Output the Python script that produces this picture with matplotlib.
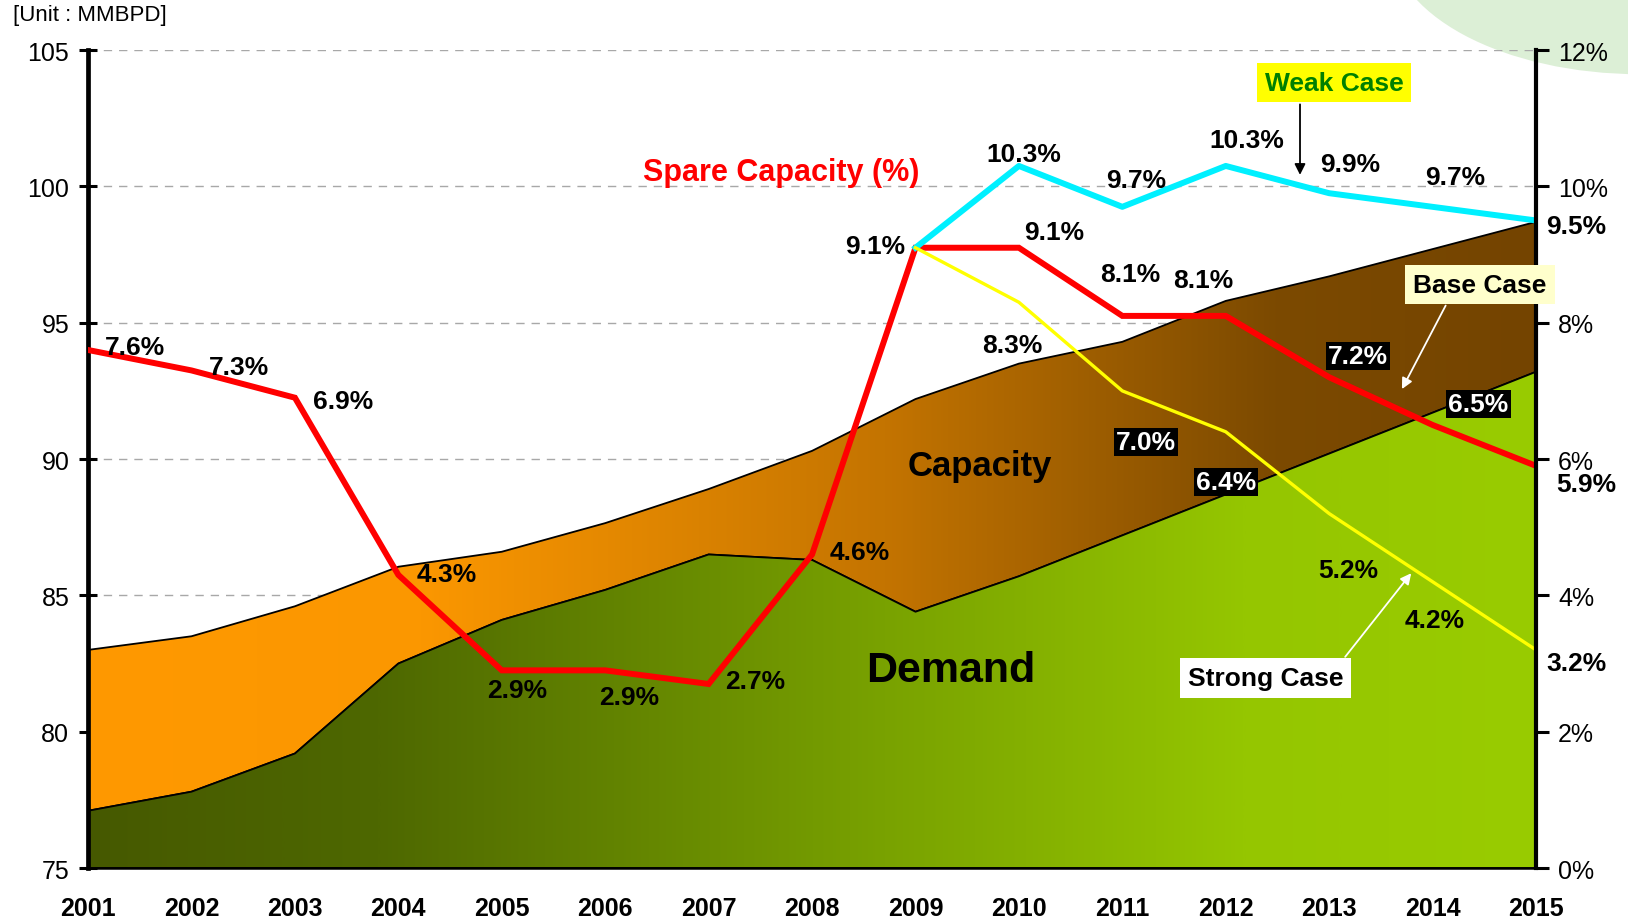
import numpy as np
import matplotlib
matplotlib.use("Agg")
import matplotlib.pyplot as plt
from matplotlib.colors import LinearSegmentedColormap
from matplotlib.patches import Ellipse

plt.rcParams['font.family'] = ['Liberation Sans', 'DejaVu Sans']

# --- data ---
years = list(range(2001, 2016))
capacity = [83.0, 83.5, 84.6, 86.05, 86.6, 87.65, 88.9, 90.3, 92.2, 93.5, 94.3, 95.8, 96.7, 97.7, 98.7]
demand = [77.1, 77.8, 79.2, 82.5, 84.1, 85.2, 86.5, 86.3, 84.4, 85.7, 87.2, 88.7, 90.2, 91.7, 93.2]
spare = [7.6, 7.3, 6.9, 4.3, 2.9, 2.9, 2.7, 4.6, 9.1, 9.1, 8.1, 8.1, 7.2, 6.5, 5.9]
case_years = years[8:]
weak = [9.1, 10.3, 9.7, 10.3, 9.9, 9.7, 9.5]
strong = [9.1, 8.3, 7.0, 6.4, 5.2, 4.2, 3.2]

left_ticks = [75, 80, 85, 90, 95, 100, 105]
right_ticks = [0, 2, 4, 6, 8, 10, 12]

# label offsets in pixels (dx, dy) from each point
spare_off = [(47, 3), (48, 3), (48, -3), (48, 1), (15, -20), (24, -27), (47, 3), (48, 2),
             (-40, 2), (35, 16), (8, 42), (-22, 36), (29, 21), (46, 21), (50, -18)]
spare_boxed = [2013, 2014]
weak_off = [None, (5, 12), (14, 27), (21, 26), (21, 29), (23, 30), (40, -6)]
strong_off = [None, (-7, -43), (24, -51), (0, -50), (19, -56), (2, -38), (40, -13)]
strong_boxed = [2011, 2012]

fig = plt.figure(figsize=(16.28, 9.2), dpi=100)
fig.patch.set_facecolor('white')
blob = Ellipse((1.0074, 1.065), 0.307, 0.2935, transform=fig.transFigure,
               facecolor='#DCEFD6', edgecolor='none', zorder=-1)
fig.add_artist(blob)

ax = fig.add_axes([0.0541, 0.0554, 0.8894, 0.8891])
ax.patch.set_visible(False)
ax.set_xlim(2001, 2015)
ax.set_ylim(75, 105)

# dashed grid
ax.set_yticks(left_ticks)
ax.yaxis.grid(True, linestyle=(0, (6, 5)), color='#A8A8A8', linewidth=1.0, zorder=0)
ax.set_axisbelow(True)


def gradient_fill(lower, upper, stops, z):
    band = ax.fill_between(years, lower, upper, facecolor='none', edgecolor='black',
                           linewidth=1.3, zorder=z + 0.5)
    cmap = LinearSegmentedColormap.from_list('g', stops)
    grad = np.linspace(0, 1, 512).reshape(1, -1)
    im = ax.imshow(grad, cmap=cmap, extent=[2001, 2015, 75, 105], aspect='auto',
                   origin='lower', zorder=z, interpolation='bilinear')
    im.set_clip_path(band.get_paths()[0], transform=ax.transData)
    return band


gradient_fill(demand, capacity,
              [(0.0, '#FF9900'), (0.23, '#FB9700'), (0.55, '#C47400'),
               (0.82, '#7C4A00'), (1.0, '#744400')], 1)
gradient_fill([75] * len(years), demand,
              [(0.0, '#465900'), (0.2, '#4E6800'), (0.55, '#79A200'),
               (0.8, '#95C600'), (1.0, '#99CC00')], 2)
ax.set_xlim(2001, 2015)
ax.set_ylim(75, 105)

ax2 = ax.twinx()
ax2.set_ylim(0, 12)
ax2.set_yticks(right_ticks)
ax2.set_yticklabels([f"{v}%" for v in right_ticks])

ax2.plot(years, spare, color='#FF0000', linewidth=4.3, solid_joinstyle='miter', zorder=3)
ax2.plot(case_years, weak, color='#00F0FF', linewidth=4.3, zorder=3)
ax2.plot(case_years, strong, color='#FFFF00', linewidth=2.4, zorder=4)

lab = dict(fontsize=19, fontweight='bold', ha='center', va='center',
           textcoords='offset pixels', zorder=6)
black_box = dict(boxstyle='square,pad=0.08', facecolor='black', edgecolor='none')

for yr, v, off in zip(years, spare, spare_off):
    if yr in spare_boxed:
        ax2.annotate(f"{v}%", (yr, v), xytext=off, color='white', bbox=black_box, **lab)
    else:
        ax2.annotate(f"{v}%", (yr, v), xytext=off, color='black', **lab)

for yr, v, off in zip(case_years, weak, weak_off):
    if off is not None:
        ax2.annotate(f"{v}%", (yr, v), xytext=off, color='black', **lab)

for yr, v, off in zip(case_years, strong, strong_off):
    if off is None:
        continue
    if yr in strong_boxed:
        ax2.annotate(f"{v}%", (yr, v), xytext=off, color='white', bbox=black_box, **lab)
    else:
        ax2.annotate(f"{v}%", (yr, v), xytext=off, color='black', **lab)

# area / series titles
ax2.text(0.4786, 0.8504, "Spare Capacity (%)", transform=ax2.transAxes, color='#FF0000',
         fontsize=22, fontweight='bold', ha='center', va='center', zorder=6)
ax2.text(0.616, 0.4927, "Capacity", transform=ax2.transAxes, color='black',
         fontsize=25, fontweight='bold', ha='center', va='center', zorder=6)
ax2.text(0.596, 0.242, "Demand", transform=ax2.transAxes, color='black',
         fontsize=31, fontweight='bold', ha='center', va='center', zorder=6)

# case call-outs
ax2.text(0.8605, 0.96, "Weak Case", transform=ax2.transAxes, color='#008000',
         fontsize=19, fontweight='bold', ha='center', va='center', zorder=10,
         bbox=dict(boxstyle='square,pad=0.28', facecolor='#FFFF00', edgecolor='none'))
ax2.annotate('', xy=(0.837, 0.844), xytext=(0.837, 0.937), xycoords='axes fraction',
             textcoords='axes fraction', zorder=10,
             arrowprops=dict(arrowstyle='-|>', color='black', lw=1.3, mutation_scale=16))

ax2.text(0.9613, 0.7133, "Base Case", transform=ax2.transAxes, color='black',
         fontsize=19, fontweight='bold', ha='center', va='center', zorder=10,
         bbox=dict(boxstyle='square,pad=0.3', facecolor='#FFFFCC', edgecolor='none'))
ax2.annotate('', xy=(0.9065, 0.5825), xytext=(0.9385, 0.6907), xycoords='axes fraction',
             textcoords='axes fraction', zorder=10,
             arrowprops=dict(arrowstyle='-|>', color='white', lw=1.3, mutation_scale=16))

ax2.text(0.8132, 0.2323, "Strong Case", transform=ax2.transAxes, color='black',
         fontsize=19, fontweight='bold', ha='center', va='center', zorder=10,
         bbox=dict(boxstyle='square,pad=0.3', facecolor='white', edgecolor='none'))
ax2.annotate('', xy=(0.915, 0.3631), xytext=(0.867, 0.2555), xycoords='axes fraction',
             textcoords='axes fraction', zorder=10,
             arrowprops=dict(arrowstyle='-|>', color='white', lw=1.3, mutation_scale=16))

fig.text(0.008, 0.9832, "[Unit : MMBPD]", fontsize=16, ha='left', va='center')

# axes styling
ax.set_xticks(years)
ax.set_xticklabels([str(y) for y in years], fontsize=18, fontweight='bold')
ax.tick_params(axis='x', direction='in', length=7, width=1, pad=20, colors='black')
ax.tick_params(axis='y', direction='inout', length=13, width=2.2, pad=7, labelsize=18)
ax2.tick_params(axis='y', direction='out', length=9, width=2.2, pad=7, labelsize=18)
for a in (ax, ax2):
    a.spines['top'].set_visible(False)
ax.spines['right'].set_visible(False)
ax2.spines['left'].set_visible(False)
ax2.spines['bottom'].set_visible(False)
ax.spines['left'].set_linewidth(3.4)
ax2.spines['right'].set_linewidth(3.0)
ax.spines['bottom'].set_linewidth(1.8)
ax.spines['left'].set_zorder(8)
ax2.spines['right'].set_zorder(8)

fig.savefig("out.png", dpi=100)
